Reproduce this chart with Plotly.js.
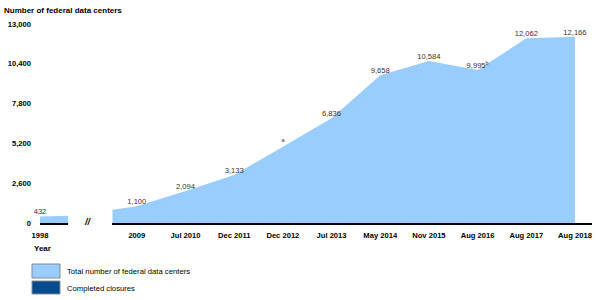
<!DOCTYPE html>
<html>
<head>
<meta charset="utf-8">
<script src="https://cdn.plot.ly/plotly-3.0.1.min.js"></script>
<style>html,body{margin:0;padding:0;background:#fff;}#chart{width:597px;height:300px;}</style>
</head>
<body>
<div id="chart"></div>
<script>
// ---- data ----
const earlyCategories = ['1998'];
const earlyValues = [432, 480];
const earlyLabels = ['432'];

const categories = ['2009', 'Jul 2010', 'Dec 2011', 'Dec 2012', 'Jul 2013', 'May 2014', 'Nov 2015', 'Aug 2016', 'Aug 2017', 'Aug 2018'];
const totalCenters = [1100, 2094, 3133, 4980, 6836, 9658, 10584, 9995, 12062, 12166];
const valueLabels = ['1,100', '2,094', '3,133', '<sup>a</sup>', '6,836', '9,658', '10,584', '9,995<sup>b</sup>', '12,062', '12,166'];
const leftEdgeValue = 865; // value at left edge of the 2009+ area

const yTickVals = [0, 2600, 5200, 7800, 10400, 13000];
const yTickText = ['0', '2,600', '5,200', '7,800', '10,400', '13,000'];

// ---- layout helpers (pixel -> paper) ----
const W = 597, H = 300;
const px = v => v / W;
const py = v => 1 - v / H;

const FONT = 'Liberation Sans, Arial, sans-serif';
const lightBlue = '#99ccff';
const darkBlue = '#044a8f';

const idx = categories.map((c, i) => i);
const mainX = [-0.5].concat(idx);
const mainY = [leftEdgeValue].concat(totalCenters);
const labelFont = {family: FONT, size: 7.6, color: '#333'};

const traces = [
  {
    type: 'scatter', mode: 'lines',
    x: earlyValues.map((v, i) => i), y: earlyValues,
    fill: 'tozeroy', fillcolor: lightBlue,
    line: {width: 0, color: lightBlue},
    xaxis: 'x', yaxis: 'y', hoverinfo: 'skip', showlegend: false
  },
  {
    type: 'scatter', mode: 'text',
    x: earlyLabels.map((v, i) => i), y: earlyValues.slice(0, earlyLabels.length), text: earlyLabels,
    textposition: 'top center', cliponaxis: false, textfont: labelFont,
    xaxis: 'x', yaxis: 'y', hoverinfo: 'skip', showlegend: false
  },
  {
    type: 'scatter', mode: 'lines',
    x: mainX, y: mainY,
    fill: 'tozeroy', fillcolor: lightBlue,
    line: {width: 0, color: lightBlue},
    xaxis: 'x2', yaxis: 'y', hoverinfo: 'skip', showlegend: false
  },
  {
    type: 'scatter', mode: 'text',
    x: idx, y: totalCenters, text: valueLabels,
    textposition: 'top center', cliponaxis: false, textfont: labelFont,
    xaxis: 'x2', yaxis: 'y', hoverinfo: 'skip', showlegend: false
  }
];

const tickFont = {family: FONT, size: 7.6, color: '#000', weight: 'bold'};

const layout = {
  width: W, height: H,
  margin: {l: 0, r: 0, t: 0, b: 0, pad: 0},
  paper_bgcolor: '#fff', plot_bgcolor: '#fff',
  showlegend: false,
  title: {
    text: '<b>Number of federal data centers</b>',
    x: px(4), xanchor: 'left', xref: 'paper',
    y: py(10), yanchor: 'middle', yref: 'paper',
    font: {family: FONT, size: 8, color: '#000'}
  },
  xaxis: {
    domain: [px(40), px(68)], range: [0, 1], anchor: 'y',
    tickvals: [0], ticktext: earlyCategories,
    showline: true, linecolor: '#000', linewidth: 2,
    showgrid: false, zeroline: false, ticks: '', ticklabelstandoff: 4,
    tickfont: tickFont, fixedrange: true
  },
  xaxis2: {
    domain: [px(112), px(592)], range: [-0.51, 9.35], anchor: 'y',
    tickvals: idx, ticktext: categories,
    showline: true, linecolor: '#000', linewidth: 2,
    showgrid: false, zeroline: false, ticks: '', ticklabelstandoff: 4,
    tickfont: tickFont, fixedrange: true
  },
  yaxis: {
    domain: [py(223), py(24)], range: [0, 13000],
    anchor: 'free', position: px(31),
    tickvals: yTickVals, ticktext: yTickText,
    showline: false, showgrid: false, zeroline: false, ticks: '',
    tickfont: tickFont, fixedrange: true
  },
  shapes: [
    {type: 'rect', xref: 'paper', yref: 'paper', x0: px(32), x1: px(60), y0: py(264), y1: py(278),
     fillcolor: lightBlue, line: {color: '#888', width: 1}},
    {type: 'rect', xref: 'paper', yref: 'paper', x0: px(32), x1: px(60), y0: py(281), y1: py(294),
     fillcolor: darkBlue, line: {color: '#888', width: 1}}
  ],
  annotations: [
    {text: '<b>Year</b>', xref: 'paper', yref: 'paper', x: px(32), y: py(248), xanchor: 'left', yanchor: 'middle',
     showarrow: false, font: {family: FONT, size: 8, color: '#000'}},
    {text: '<b><i>//</i></b>', xref: 'paper', yref: 'paper', x: px(88), y: py(222), xanchor: 'center', yanchor: 'middle',
     showarrow: false, font: {family: FONT, size: 9, color: '#000'}},
    {text: 'Total number of federal data centers', xref: 'paper', yref: 'paper', x: px(65), y: py(271), xanchor: 'left', yanchor: 'middle',
     showarrow: false, font: {family: FONT, size: 7.7, color: '#000'}},
    {text: 'Completed closures', xref: 'paper', yref: 'paper', x: px(65), y: py(288), xanchor: 'left', yanchor: 'middle',
     showarrow: false, font: {family: FONT, size: 7.7, color: '#000'}}
  ]
};

Plotly.newPlot('chart', traces, layout, {displayModeBar: false, staticPlot: true});
</script>
</body>
</html>
